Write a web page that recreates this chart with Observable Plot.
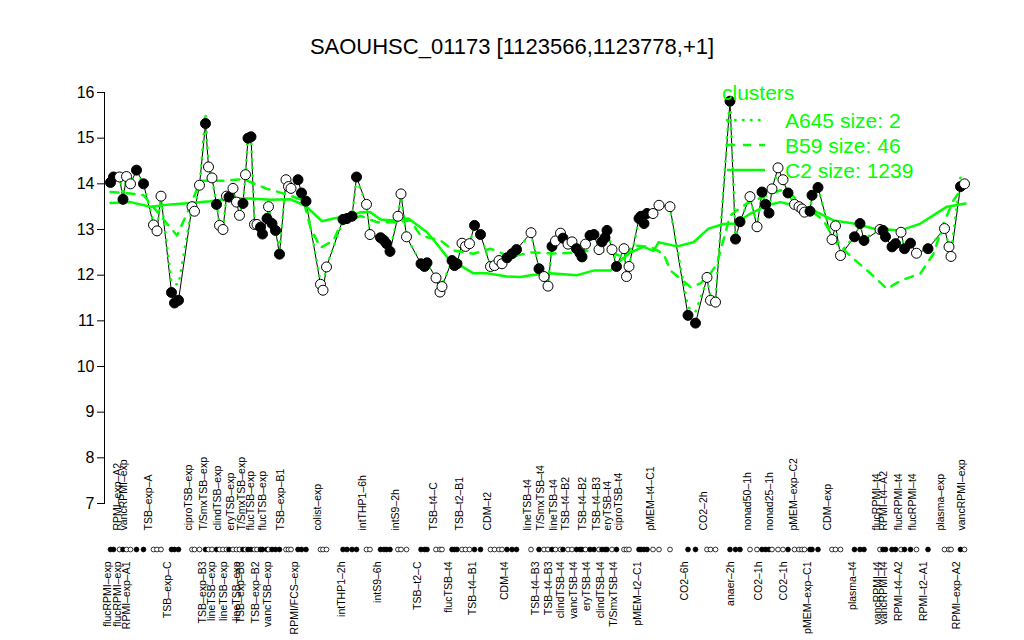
<!DOCTYPE html>
<html><head><meta charset="utf-8">
<script src="https://cdn.jsdelivr.net/npm/d3@7"></script>
<script src="https://cdn.jsdelivr.net/npm/@observablehq/plot@0.6"></script>
<style>
body{margin:0;background:#fff;font-family:"Liberation Sans",Arial,sans-serif;}
#wrap{position:relative;width:1024px;height:640px;overflow:hidden;}
#title{position:absolute;top:35px;left:0;width:1024px;text-align:center;font-size:22px;line-height:24px;color:#000;}
#legend{position:absolute;left:700px;top:70px;}
</style></head><body>
<div id="wrap"><div id="chart"></div>
<div id="title">SAOUHSC_01173 [1123566,1123778,+1]</div>
<svg id="legend" width="300" height="120"></svg>
</div>
<script>
// sample positions along x (slot units) and expression values
const positions = [2.0,2.6,3.8,4.5,5.2,6.0,7.2,8.6, 10.6,11.3,12.1, 14.2,14.8,15.6, 18.3,18.8,19.8,
 21.0,21.6,22.3,23.2,23.8,24.5,25.2,25.7,26.5,27.2,27.8,28.5,29.0,29.5,30.1,30.8,31.3,32.0,32.4,33.3,33.6,34.3,35.0,35.8,
 37.1,37.6,38.1, 39.5,40.2,41.1, 44.0,44.5,45.2, 48.5,49.3,50.3,51.2, 53.2,53.9, 56.0,56.7,57.2,57.9, 59.5,60.1,61.2,
 64.1,64.8,65.3, 67.1,67.9,68.3, 70.3,70.8,71.3, 72.3,73.0,73.8, 74.8,76.0, 78.0,78.8,79.7,80.3, 81.3,82.3,83.2, 86.1,
 87.7,88.7,89.5, 90.3,91.0,92.0,92.5,93.5,94.3,95.2,95.9,96.3,97.0,97.9,98.7,99.7,100.3,100.9,101.3,102.3,103.2,
 104.7,105.2,105.7, 107.7,108.1,108.7,109.3,110.5,111.7, 113.9, 117.5,119.0, 121.3,122.0,123.0, 125.9,127.0,127.9,
 129.9,131.3,132.3,133.0,133.7,134.3,135.5,136.5,137.5, 138.8,139.7,140.3,140.8,141.9,142.3,143.5, 146.3,147.0,148.0,
 150.8,151.9,152.7, 155.9,156.5,157.0,158.3,159.0,160.1,160.8,162.0,163.2, 165.5, 168.8,169.7,170.1, 172.0,172.8];
const values = [14.03,14.15,14.15,13.66,14.16,14.0,14.3,14.0, 13.1,12.97,13.73, 11.62,11.39,11.45, 13.5,13.4,13.97,
 15.32,14.37,14.13,13.55,13.09,13.0,13.73,13.71,13.9,13.6,13.31,13.57,14.2,15.0,15.03,13.11,13.11,13.05,12.9,13.24,13.5,13.13,12.98,12.46,
 14.09,13.94,13.9, 14.09,13.8,13.62, 11.8,11.67,12.18, 13.22,13.24,13.29,14.15, 13.55,12.89, 12.82,12.76,12.69,12.52, 13.29,13.78,12.84,
 12.25,12.19,12.27, 11.94,11.63,11.75, 12.32,12.21,12.25, 12.7,12.63,12.69, 13.09,12.89, 12.19,12.21,12.32,12.25, 12.38,12.47,12.56, 12.93,
 12.14,11.97,11.76, 12.63,12.75,12.92,12.81,12.68,12.73,12.58,12.48,12.4,12.68,12.87,12.89,12.56,12.73,12.82,12.98,12.56,12.19,
 12.58,11.97,12.19, 13.24,13.29,13.13,13.35,13.35,13.53, 13.5, 11.12,10.95, 11.95,11.45,11.41, 15.81,12.79,13.17,
 13.72,13.06,13.82,13.55,13.36,13.89,14.35,14.09,13.8, 13.55,13.5,13.45,13.38,13.4,13.75,13.92, 12.78,13.08,12.43,
 12.84,13.13,12.76, 13.0,12.98,12.84,12.62,12.69,12.94,12.58,12.7,12.48, 12.58, 13.02,12.62,12.41, 13.94,14.0];
const filled = [1,1,0,1,0,0,1,1, 0,0,0, 1,1,1, 0,0,0,
 1,0,0,1,0,0,0,1,0,0,0,1,0,1,1,0,0,1,1,1,0,1,1,1,
 0,0,0, 1,1,1, 0,0,0, 1,1,1,1, 0,0, 1,1,1,1, 0,0,0,
 1,1,1, 0,0,0, 1,1,1, 0,0,0, 1,1, 0,0,0,0, 1,1,1, 0,
 1,0,0, 1,0,0,1,0,0,1,1,1,0,1,1,0,1,1,1,0,1,
 0,0,0, 1,1,1,1,0,0, 0, 1,1, 0,0,0, 1,1,1,
 0,0,1,1,1,0,0,0,1, 0,0,0,0,1,1,1, 0,0,0,
 1,1,1, 0,1,1,1,1,0,1,1,0, 1, 0,0,0, 1,0];
// cluster A645 (dotted), values at the same sample positions
const a645 = [14.1,14.15,14.15,13.75,14.15,14.05,14.25,14.0, 13.15,13.0,13.7, 11.85,11.8,11.8, 13.5,13.45,13.95,
 15.55,14.4,14.1,13.6,13.1,13.05,13.7,13.7,13.85,13.6,13.35,13.6,14.2,15.1,15.1,13.15,13.1,13.1,12.95,13.2,13.45,13.15,13.0,12.55,
 14.05,13.95,13.9, 14.05,13.8,13.6, 11.85,11.75,12.2, 13.2,13.25,13.3,14.1, 13.55,12.9, 12.8,12.75,12.7,12.55, 13.3,13.75,12.85,
 12.25,12.2,12.25, 11.95,11.7,11.8, 12.3,12.25,12.25, 12.7,12.65,12.7, 13.05,12.9, 12.2,12.25,12.3,12.3, 12.4,12.45,12.55, 12.9,
 12.15,12.0,11.85, 12.6,12.75,12.9,12.8,12.7,12.7,12.6,12.5,12.45,12.65,12.85,12.85,12.6,12.7,12.8,12.95,12.6,12.25,
 12.55,12.0,12.2, 13.2,13.25,13.15,13.3,13.35,13.5, 13.45, 11.3,11.2, 11.9,11.55,11.5, 15.9,12.85,13.2,
 13.7,13.1,13.8,13.55,13.4,13.85,14.3,14.05,13.8, 13.55,13.5,13.45,13.4,13.4,13.7,13.9, 12.8,13.05,12.5,
 12.85,13.1,12.8, 13.0,12.95,12.85,12.65,12.7,12.9,12.6,12.7,12.5, 12.6, 13.0,12.65,12.5, 14.15,14.2];
// cluster B59 (dashed)
const b59Pos = [2,6,8.6,13.3,15.3,17.3,20,24.6,28.6,33.3,36.6,40.6,42,44,46.6,48,52,55.3,59.3,62,64,68,70.6,74.6,78,82,86,91.3,95.3,98,102,104.6,106.6,110,112.6,114,118,120,122,123.3,125.9,127.3,129.3,133.3,136,138,140,142,144.6,147.3,150.6,154,157.3,160,164,166.6,168.6,170.6,172.6];
const b59Val = [13.82,13.79,13.75,13.13,12.87,13.35,14.07,14.07,14.1,13.89,13.79,13.64,13.04,12.6,12.76,13.1,13.3,13.16,13.16,13.2,12.87,12.76,12.54,12.47,12.58,12.4,12.5,12.47,12.5,12.54,12.5,12.4,12.65,12.62,12.47,12.1,11.74,11.82,12.04,12.25,13.3,13.42,13.57,13.75,13.86,13.79,13.57,13.42,13.2,12.69,12.36,12.04,11.7,11.88,12.04,12.47,13.13,13.64,13.94];
// cluster C2 (solid)
const c2Pos = [2,6,10,14,18,22,26,30,34,38,41,44.3,46.6,50,52,54,56,58,61.6,65.3,67,69.6,72,74.6,77.3,81.3,84,86,90,95.3,98.6,102,104,106,108.6,110.6,111.6,115.3,118.6,121.6,124.6,127,130,133.3,136,138.6,142.6,146.6,150.6,154.6,160,164,169.3,173];
const c2Val = [13.58,13.6,13.5,13.55,13.58,13.62,13.68,13.68,13.65,13.66,13.52,13.18,13.24,13.3,13.38,13.38,13.22,13.2,13.24,12.94,12.72,12.36,12.21,12.04,12.04,11.97,11.96,12.0,12.04,12.0,12.1,12.1,12.32,12.5,12.62,12.53,12.72,12.63,12.72,13.02,13.12,13.13,13.35,13.53,13.6,13.53,13.42,13.2,13.13,13.02,12.98,13.13,13.5,13.57];
// x-axis labels (upper row and lower row) with their positions
const topLabels = ["RPMI\u2013exp\u2013A2","vancRPMI\u2013exp","TSB\u2013exp\u2013A","ciproTSB\u2013exp","T/SmxTSB\u2013exp","clindTSB\u2013exp","eryTSB\u2013exp","T/SmxTSB\u2013exp","flucTSB\u2013exp","flucTSB\u2013exp","TSB\u2013exp\u2013B1","colist\u2013exp","intTHP1\u20136h","intS9\u20132h","TSB\u2013t4\u2013C","TSB\u2013t2\u2013B1","CDM\u2013t2","lineTSB\u2013t4","T/SmxTSB\u2013t4","lineTSB\u2013t4","TSB\u2013t4\u2013B2","TSB\u2013t4\u2013B2","TSB\u2013t4\u2013B3","eryTSB\u2013t4","ciproTSB\u2013t4","pMEM\u2013t4\u2013C1","CO2\u20132h","nonad50\u20131h","nonad25\u20131h","pMEM\u2013exp\u2013C2","CDM\u2013exp","flucRPMI\u2013t4","RPMI\u2013t4\u2013A2","flucRPMI\u2013t4","flucRPMI\u2013t4","plasma\u2013exp","vancRPMI\u2013exp"];
const topLabelPos = [4.0,5.3,10.3,18.3,21.3,24.0,26.6,28.8,30.6,33.0,36.6,44.1,53.0,59.6,67.3,72.5,78.1,86.0,88.7,91.3,93.7,97.0,99.9,102.0,104.3,110.7,121.3,130.1,134.5,139.2,146.0,155.8,157.3,160.3,163.0,168.7,172.9];
const bottomLabels = ["flucRPMI\u2013exp","flucRPMI\u2013exp","RPMI\u2013exp\u2013A1","TSB\u2013exp\u2013C","TSB\u2013exp\u2013B3","lineTSB\u2013exp","lineTSB\u2013exp","lineTSB\u2013exp","TSB\u2013exp\u2013B3","TSB\u2013exp\u2013B2","vancTSB\u2013exp","RPMI/FCS\u2013exp","intTHP1\u20132h","intS9\u20136h","TSB\u2013t2\u2013C","flucTSB\u2013t4","TSB\u2013t4\u2013B1","CDM\u2013t4","TSB\u2013t4\u2013B3","TSB\u2013t4\u2013B3","clindTSB\u2013t4","vancTSB\u2013t4","eryTSB\u2013t4","clindTSB\u2013t4","T/SmxTSB\u2013t4","pMEM\u2013t2\u2013C1","CO2\u20136h","anaer\u20132h","CO2\u20131h","CO2\u20131h","pMEM\u2013exp\u2013C1","plasma\u2013t4","vancRPMI\u2013t4","vancRPMI\u2013t4","RPMI\u2013t4\u2013A2","RPMI\u2013t2\u2013A1","RPMI\u2013exp\u2013A2"];
const bottomLabelPos = [2.0,4.0,5.8,14.0,21.0,22.8,25.2,27.8,28.6,31.6,34.0,39.4,48.8,56.0,64.1,70.3,75.0,81.5,87.7,90.3,92.7,95.2,97.9,100.7,103.3,108.1,117.5,126.7,132.3,137.3,142.0,151.0,156.0,157.3,160.3,165.2,171.9];
const yTicks = [7,8,9,10,11,12,13,14,15,16];
const legendTitle = "clusters";
const legendNames = ["A645 size: 2","B59 size: 46","C2 size: 1239"];

const green = "#00ff00";

const samples = positions.map((p,i)=>({pos:p, value:values[i], filled:filled[i]===1, a645:a645[i]}));
const b59 = b59Pos.map((p,i)=>({pos:p, value:b59Val[i]}));
const c2 = c2Pos.map((p,i)=>({pos:p, value:c2Val[i]}));
const tops = topLabels.map((t,i)=>({label:t, pos:topLabelPos[i]}));
const bots = bottomLabels.map((t,i)=>({label:t, pos:bottomLabelPos[i]}));

const chart = Plot.plot({
  width:1024, height:640, marginLeft:104, marginRight:44, marginTop:92, marginBottom:137,
  style:{fontFamily:"'Liberation Sans', Arial, sans-serif", background:"white", overflow:"visible", color:"black"},
  x:{domain:[0.8,176], axis:null},
  y:{domain:[7,16], axis:null},
  marks:[
    Plot.frame({anchor:"left", stroke:"black"}),
    Plot.axisY({ticks:yTicks, tickSize:7, tickPadding:3, fontSize:16, tickFormat:d=>String(d), anchor:"left", label:null, stroke:"black"}),
    Plot.line(samples,{x:"pos",y:"value",stroke:"black",strokeWidth:1}),
    Plot.line(samples,{x:"pos",y:"a645",stroke:green,strokeWidth:2.5,strokeDasharray:"0.5,7.5",strokeLinecap:"round"}),
    Plot.line(b59,{x:"pos",y:"value",stroke:green,strokeWidth:2.5,strokeDasharray:"8,8"}),
    Plot.line(c2,{x:"pos",y:"value",stroke:green,strokeWidth:2.5}),
    Plot.dot(samples,{x:"pos",y:"value",r:5,fill:d=>d.filled?"black":"white",stroke:"black",strokeWidth:1}),
    Plot.dot(samples,{x:"pos",frameAnchor:"bottom",dy:46,r:2.4,fill:d=>d.filled?"black":"white",stroke:"black",strokeWidth:0.8}),
    Plot.text(tops,{x:"pos",text:"label",frameAnchor:"bottom",dy:27,rotate:-90,textAnchor:"start",fontSize:10.5,fill:"black"}),
    Plot.text(bots,{x:"pos",text:"label",frameAnchor:"bottom",dy:58,rotate:-90,textAnchor:"end",fontSize:10.5,fill:"black"})
  ]
});
document.getElementById("chart").appendChild(chart);

// legend (no box), drawn with d3
const lg = d3.select("#legend");
lg.append("text").attr("x",22).attr("y",22).attr("dominant-baseline","central")
  .attr("font-size",21).attr("fill",green).attr("font-family","Liberation Sans, Arial, sans-serif").text(legendTitle);
const dashes = ["0.5,7.5","8,8",null];
legendNames.forEach((name,i)=>{
  const y = 50 + i*25;
  const ln = lg.append("line").attr("x1",27).attr("x2",65).attr("y1",y).attr("y2",y)
    .attr("stroke",green).attr("stroke-width",2.5).attr("stroke-linecap", i===0?"round":"butt");
  if (dashes[i]) ln.attr("stroke-dasharray",dashes[i]);
  lg.append("text").attr("x",85).attr("y",y).attr("dominant-baseline","central")
    .attr("font-size",21).attr("fill",green).attr("font-family","Liberation Sans, Arial, sans-serif").text(name);
});
</script>
</body></html>
